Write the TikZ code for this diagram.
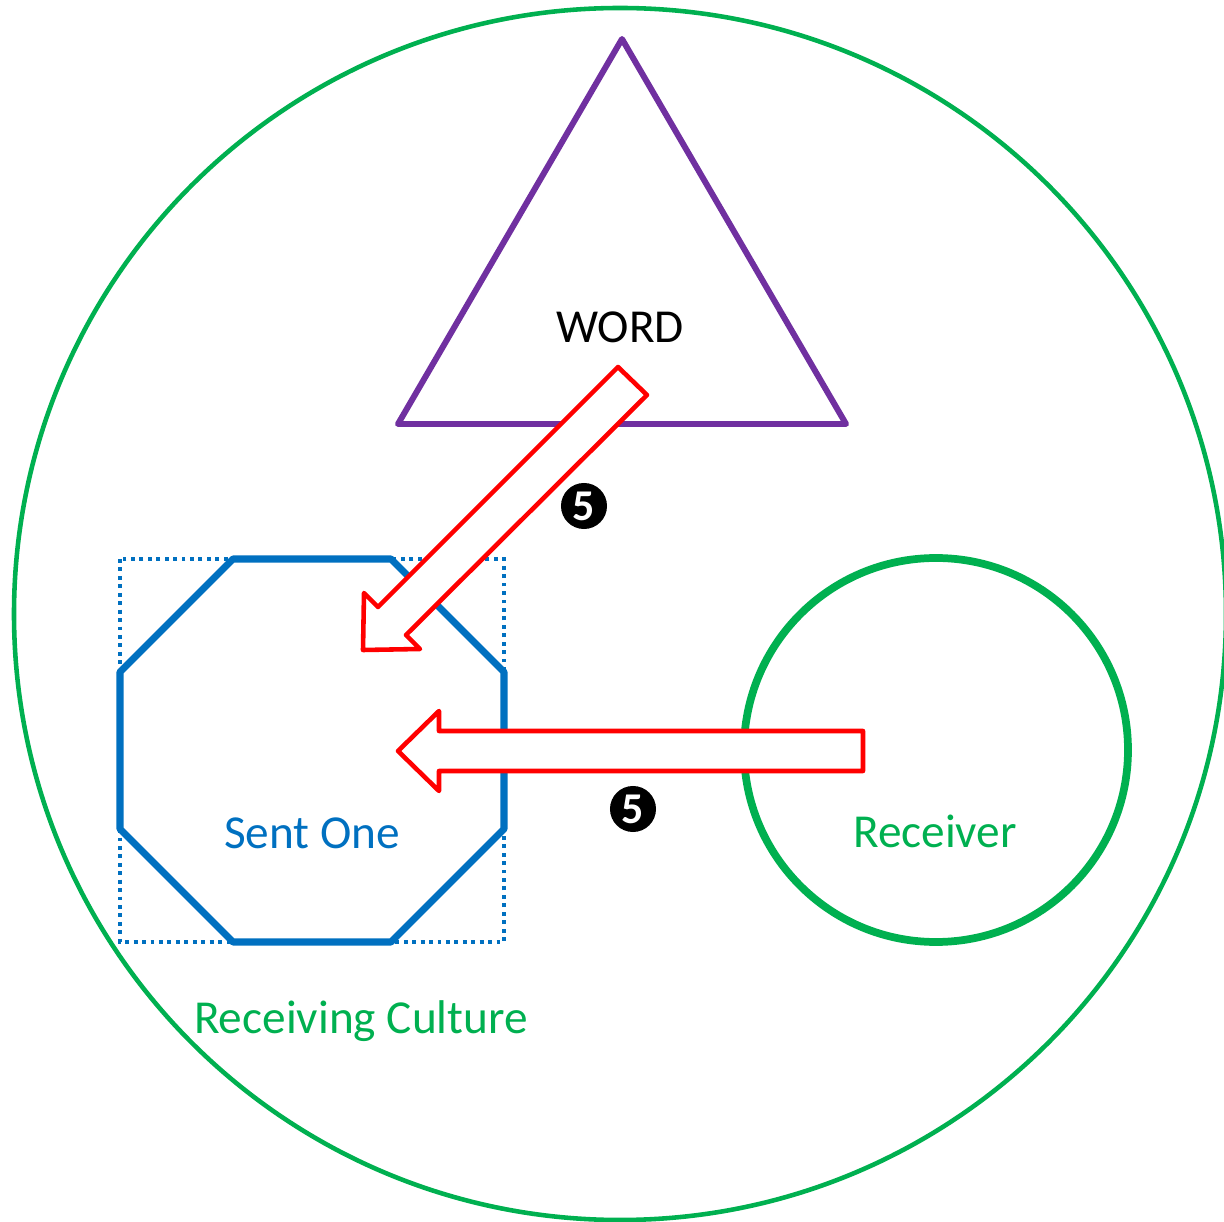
\documentclass[tikz,border=0pt]{standalone}
\usepackage{fontspec}
\setmainfont{Carlito}
\usepackage{tikz}
\usepackage{xcolor}
\usetikzlibrary{calc,positioning,shapes}
\definecolor{culturegreen}{HTML}{00B050}
\definecolor{sentblue}{HTML}{0070C0}
\definecolor{wordpurple}{HTML}{7030A0}
\tikzset{%
	culture/.style  = {draw=culturegreen, line width=1.3pt},
	receiver/.style = {draw=culturegreen, line width=2.2pt},
	word/.style     = {draw=wordpurple, line width=1.7pt, line join=round},
	sentone/.style  = {draw=sentblue, line width=2pt, line join=round},
	dotframe/.style = {draw=sentblue, line width=1.1pt, dash pattern=on 1.1pt off 1.3pt},
	bigarrow/.style = {draw=red, fill=white, line width=1.3pt, line join=round},
	numberdot/.style= {circle, fill=black, text=white, inner sep=0pt, minimum size=0.46cm, font=\fontsize{12.5}{12.5}\selectfont\bfseries},
	txt/.style      = {anchor=base, inner sep=0pt, font=\fontsize{13.45}{16}\selectfont},
}

\begin{document}
\begin{tikzpicture}[x=0.01cm,y=-0.01cm]
	\useasboundingbox (0,0) rectangle (1224,1222);
	% receiving culture
	\draw[culture] (620,614) circle (606);
	% word
	\draw[word] (622,39) -- (846,424) -- (398,424) -- cycle;
	% sent one
	\draw[dotframe] (120,559) rectangle (504,942);
	\draw[sentone] (233,559) -- (391,559) -- (504,672) -- (504,829) -- (391,942) -- (233,942) -- (120,829) -- (120,672) -- cycle;
	% receiver
	\draw[receiver] (936,750) circle (192);
	% arrows
	\draw[bigarrow] (618,367) -- (647,395) -- (406,635) -- (420,649) -- (363,650) -- (364,593) -- (378,607) -- cycle;
	\draw[bigarrow] (863,731) -- (439,731) -- (439,711) -- (398,751) -- (439,791) -- (439,771) -- (863,771) -- cycle;
	% labels
	\node[txt, text=black] (word) at (620,343) {WORD};
	\node[txt, text=sentblue] (sentone) at (312,848) {Sent One};
	\node[txt, text=culturegreen] (receiver) at (935,847) {Receiver};
	\node[txt, text=culturegreen] (culture) at (361,1033) {Receiving Culture};
	\node[numberdot] (step1) at (584,506) {5};
	\node[numberdot] (step2) at (633,809) {5};
\end{tikzpicture}
\end{document}
